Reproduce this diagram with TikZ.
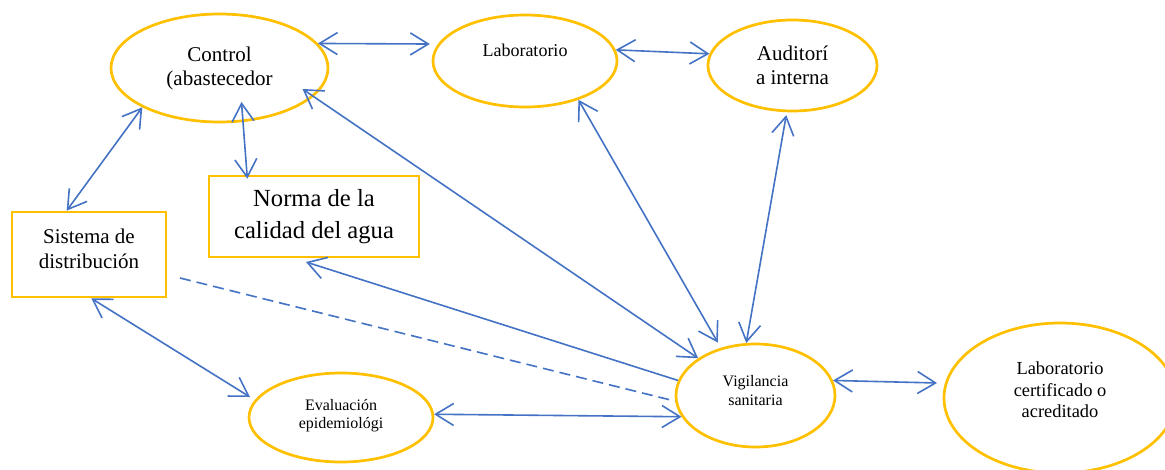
\documentclass[tikz,border=0pt]{standalone}
\usepackage{fontspec}
\setmainfont{Liberation Serif}
\usetikzlibrary{arrows.meta,shapes.geometric}
\definecolor{linkblue}{HTML}{4472C4}
\definecolor{gold}{HTML}{FFC000}
\tikzset{
  barb/.tip={Straight Barb[length=18pt,width=22pt]},
  ell/.style={ellipse,draw=gold,line width=2.7pt,inner sep=0pt,align=center},
  boxnode/.style={rectangle,draw=gold,line width=2.7pt,inner sep=0pt,align=center},
  link/.style={draw=linkblue,line width=1.6pt,barb-barb},
  linkone/.style={draw=linkblue,line width=1.6pt,-barb},
  dashlink/.style={draw=linkblue,line width=1.6pt,dash pattern=on 11pt off 6pt}
}
\begin{document}
\begin{tikzpicture}[x=1pt,y=-1pt]
\useasboundingbox (0,0) rectangle (1165,469);
\clip (0,0) rectangle (1165,469);
\fill[white] (0,0) rectangle (1165,469);

\node[ell,minimum width=217pt,minimum height=108pt,font=\fontsize{21}{24}\selectfont] (ctrl) at (219.5,68) {Control\\(abastecedor};
\node[ell,minimum width=184pt,minimum height=92pt,font=\fontsize{18}{21}\selectfont,text depth=22pt] (lab) at (525,61) {Laboratorio};
\node[ell,minimum width=169pt,minimum height=91pt,font=\fontsize{21}{24}\selectfont] (aud) at (792.5,65.5) {Auditorí\\a interna};
\node[boxnode,minimum width=210pt,minimum height=81pt,font=\fontsize{24.6}{32}\selectfont] (norma) at (314,216.5) {Norma de la\\calidad del agua};
\node[boxnode,minimum width=154pt,minimum height=85pt,font=\fontsize{21}{24.5}\selectfont,text depth=12pt] (sist) at (89,254.5) {Sistema de\\distribución};
\node[ell,minimum width=184pt,minimum height=89pt,font=\fontsize{16}{17.5}\selectfont,text depth=7.5pt] (eval) at (341,417.5) {Evaluación\\epidemiológi};
\node[ell,minimum width=159pt,minimum height=103pt,font=\fontsize{16}{19}\selectfont,text depth=11pt] (vig) at (755.5,395.5) {Vigilancia\\sanitaria};
\node[ell,minimum width=232pt,minimum height=150pt,font=\fontsize{18.4}{21.5}\selectfont,text depth=16pt] (cert) at (1060,398) {Laboratorio\\certificado o\\acreditado};

\draw[link,shorten >=8pt] (ctrl.14) -- (lab.169);
\draw[link] (lab.7.5) -- (aud.172);
\draw[link] (ctrl.207) -- (sist.117);
\draw[link,shorten >=-4pt] ([shift={(22,34)}]ctrl.center) -- (norma.148);
\draw[link] ([shift={(83,21)}]ctrl.center) -- (vig.147);
\draw[link,shorten >=6pt] (lab.-36) -- (vig.126);
\draw[link,shorten <=3pt] (aud.-97.6) -- (vig.100);
\draw[linkone] (vig.169) -- ([shift={(-8,45.5)}]norma.center);
\draw[link] (sist.-87) -- ([shift={(-91,-20.5)}]eval.center);
\draw[dashlink] ([shift={(91,23.5)}]sist.center) -- (vig.184.7);
\draw[link] (eval.2.8) -- (vig.196.5);
\draw[link] (vig.11) -- ([shift={(-123,-15)}]cert.center);
\end{tikzpicture}
\end{document}
